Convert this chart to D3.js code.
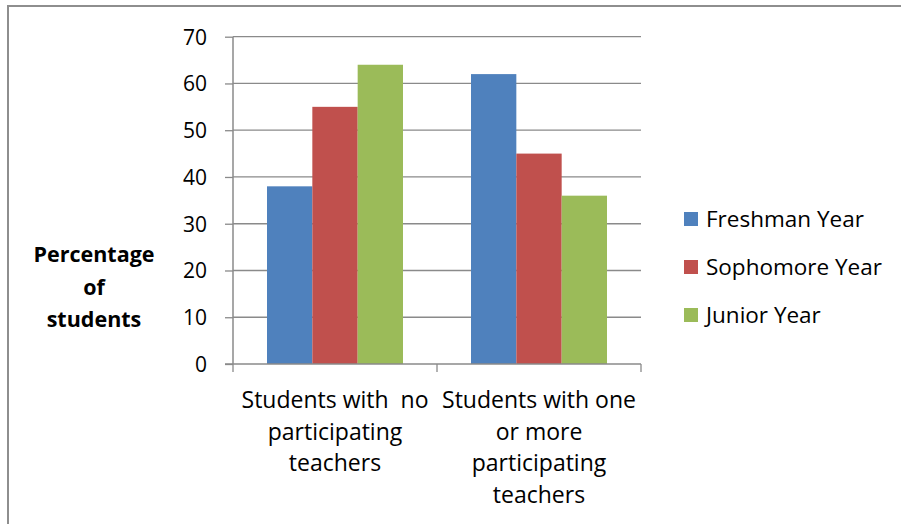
<!DOCTYPE html>
<html>
<head>
<meta charset="utf-8">
<script src="https://cdn.jsdelivr.net/npm/d3@7"></script>
<style>
  html, body { margin: 0; padding: 0; background: #fff; }
  svg { display: block; }
  text { font-family: "Open Sans", Lato, sans-serif; fill: #000; }
</style>
</head>
<body>
<svg id="chart" width="901" height="524"></svg>
<script>
const categories = [
  ["Students with  no", "participating", "teachers"],
  ["Students with one", "or more", "participating", "teachers"]
];
const seriesNames = ["Freshman Year", "Sophomore Year", "Junior Year"];
const freshman = [38, 62];
const sophomore = [55, 45];
const junior = [64, 36];
const yTicks = [0, 10, 20, 30, 40, 50, 60, 70];
const yLabelLines = ["Percentage", "of", "students"];

const series = [freshman, sophomore, junior];
const colors = ["#4F81BD", "#C0504D", "#9BBB59"];

const svg = d3.select("#chart");
const W = 901, H = 524;
const plot = { left: 233, right: 641, top: 36.7, bottom: 364 };

// outer border
svg.append("rect")
  .attr("x", 8).attr("y", 6)
  .attr("width", W + 20).attr("height", H + 20)
  .attr("fill", "#fff").attr("stroke", "#8e8e8e").attr("stroke-width", 2);

const x0 = d3.scaleBand().domain(d3.range(categories.length))
  .range([plot.left, plot.right]).paddingInner(0).paddingOuter(0);
const bw = x0.bandwidth() / 4.5;
const x1 = d3.scaleBand().domain(d3.range(series.length))
  .range([0.75 * bw, 3.75 * bw]).padding(0);
const y = d3.scaleLinear().domain([0, 70]).range([plot.bottom, plot.top]);

const gridColor = "#8a8a8a";

// gridlines
svg.append("g").selectAll("line").data(yTicks.filter(d => d > 0)).join("line")
  .attr("x1", plot.left).attr("x2", plot.right)
  .attr("y1", d => y(d)).attr("y2", d => y(d))
  .attr("stroke", gridColor).attr("stroke-width", 1.3);

// y axis
const yAxis = d3.axisLeft(y).tickValues(yTicks).tickSize(8).tickPadding(18);
const gy = svg.append("g").attr("transform", `translate(${plot.left},0)`).call(yAxis);
gy.select(".domain").attr("stroke", gridColor).attr("stroke-width", 1.5)
  .attr("d", `M0,${y(70)}V${y(0)}`);
gy.selectAll(".tick line").attr("stroke", gridColor).attr("stroke-width", 1.3);
gy.selectAll(".tick text").attr("font-size", 21).attr("font-family", "'Open Sans', sans-serif")
  .attr("fill", "#000").attr("dy", "0.35em");

// bars
const groups = svg.append("g").selectAll("g").data(categories.map((c, i) => i)).join("g")
  .attr("transform", i => `translate(${x0(i)},0)`);
groups.selectAll("rect").data(i => series.map((s, j) => ({ j, v: s[i] }))).join("rect")
  .attr("x", d => x1(d.j)).attr("width", x1.bandwidth())
  .attr("y", d => y(d.v)).attr("height", d => y(0) - y(d.v))
  .attr("fill", d => colors[d.j]);

// x axis
const xAxisLine = svg.append("g");
xAxisLine.append("line")
  .attr("x1", plot.left - 8).attr("x2", plot.right)
  .attr("y1", y(0)).attr("y2", y(0))
  .attr("stroke", gridColor).attr("stroke-width", 1.5);
const tickXs = [plot.left, ...categories.map((c, i) => x0(i) + x0.bandwidth())];
xAxisLine.selectAll("line.t").data(tickXs).join("line").attr("class", "t")
  .attr("x1", d => d).attr("x2", d => d)
  .attr("y1", y(0)).attr("y2", y(0) + 8)
  .attr("stroke", gridColor).attr("stroke-width", 1.3);

// category labels
const catG = svg.append("g");
categories.forEach((lines, i) => {
  const t = catG.append("text")
    .attr("x", x0(i) + x0.bandwidth() / 2).attr("y", 408)
    .attr("text-anchor", "middle").attr("font-size", 23)
    .style("white-space", "pre");
  lines.forEach((ln, k) => {
    t.append("tspan").attr("x", x0(i) + x0.bandwidth() / 2)
      .attr("y", 408 + k * 31.5).text(ln);
  });
});

// y axis title
const yt = svg.append("text").attr("text-anchor", "middle")
  .attr("font-size", 21.5).attr("font-weight", "bold");
yLabelLines.forEach((ln, k) => {
  yt.append("tspan").attr("x", 94).attr("y", 262 + k * 32.5).text(ln);
});

// legend
const leg = svg.append("g");
seriesNames.forEach((name, k) => {
  const cy = 219 + k * 48;
  leg.append("rect").attr("x", 684).attr("y", cy - 7).attr("width", 14).attr("height", 14)
    .attr("fill", colors[k]);
  leg.append("text").attr("x", 706).attr("y", cy).attr("dy", "0.35em")
    .attr("font-size", 22.5).text(name);
});
</script>
</body>
</html>
